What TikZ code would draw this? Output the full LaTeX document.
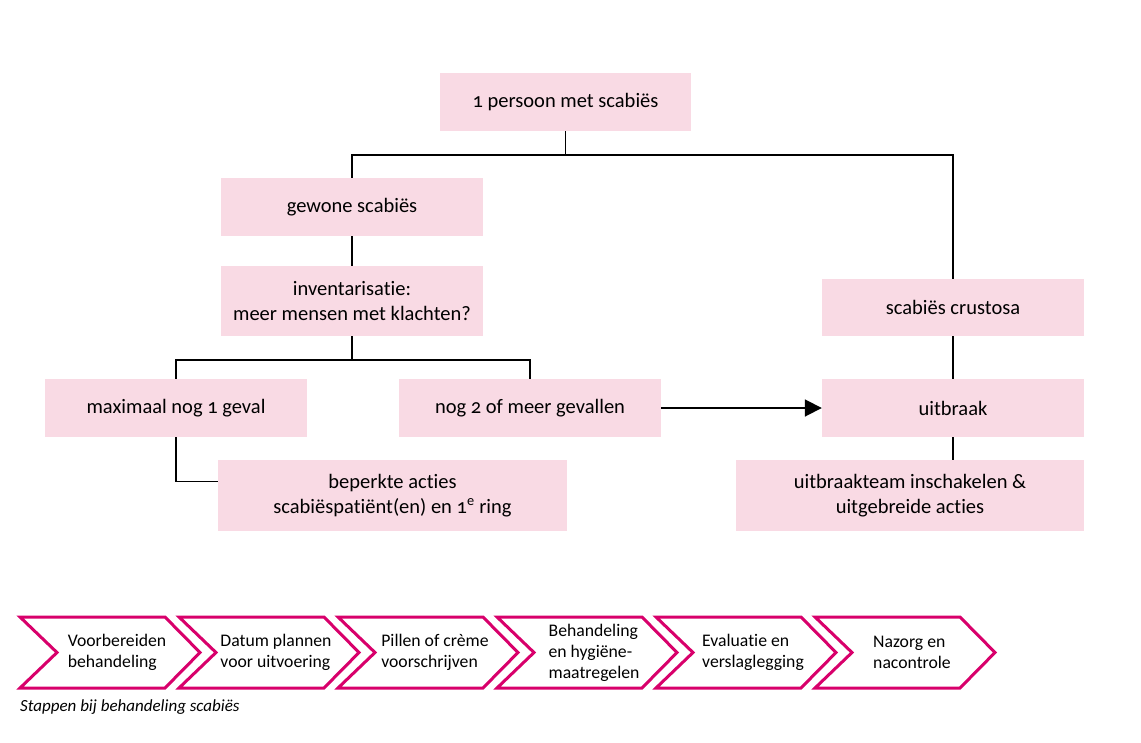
\documentclass[tikz,border=0pt]{standalone}
\usepackage{fontspec}
\setmainfont{Carlito}[Numbers=OldStyle, RawFeature=-liga]
\usetikzlibrary{arrows.meta}
\definecolor{boxpink}{HTML}{F9DAE4}
\definecolor{stepred}{HTML}{D8006B}
\tikzset{
  box/.style={fill=boxpink, align=center, inner sep=0pt,
    font=\fontsize{20.5}{25}\selectfont},
  link/.style={line width=1.8pt, black},
  stepline/.style={draw=stepred, line width=3pt, line join=miter},
  steptext/.style={align=left, font=\fontsize{17.7}{21}\selectfont}
}
\begin{document}
\begin{tikzpicture}[x=1pt,y=-1pt]
  \useasboundingbox (0,0) rectangle (1141,742);
  % flowchart boxes
  \node[box, minimum width=251pt, minimum height=58pt] (persoon) at (565.5,102) {1 persoon met scabiës};
  \node[box, minimum width=262pt, minimum height=58pt] (gewone) at (352,207) {gewone scabiës};
  \node[box, minimum width=262pt, minimum height=70pt] (inventarisatie) at (352,301) {inventarisatie:\\meer mensen met klachten?};
  \node[box, minimum width=262pt, minimum height=57pt] (crustosa) at (953,307.5) {scabiës crustosa};
  \node[box, minimum width=262pt, minimum height=58pt] (maximaal) at (176,408) {maximaal nog 1 geval};
  \node[box, minimum width=262pt, minimum height=58pt] (meer) at (530,408) {nog 2 of meer gevallen};
  \node[box, minimum width=262pt, minimum height=58pt] (uitbraak) at (953,408) {uitbraak};
  \node[box, minimum width=349pt, minimum height=71pt] (beperkt) at (392.5,495.5) {beperkte acties\\scabiëspatiënt(en) en 1\textsuperscript{e} ring};
  \node[box, minimum width=348pt, minimum height=71pt] (team) at (910,495.5) {uitbraakteam inschakelen \&\\uitgebreide acties};
  \coordinate (split1) at (565.5,155);
  \coordinate (split2) at (352,360);
  % connectors
  \draw[link] (persoon.south) -- (split1);
  \draw[link] (gewone.north) |- (split1) -| (crustosa.north);
  \draw[link] (gewone) -- (inventarisatie);
  \draw[link] (inventarisatie.south) -- (split2);
  \draw[link] (maximaal.north) |- (split2) -| (meer.north);
  \draw[link] (maximaal.south) |- ([yshift=14pt]beperkt.west);
  \draw[link] (crustosa) -- (uitbraak);
  \draw[link] (uitbraak.south) -- (uitbraak.south |- team.north);
  \draw[link, -{Triangle[length=17pt, width=17pt]}] (meer) -- (uitbraak);
  % steps
  \foreach \i/\txt in {0/{Voorbereiden\\behandeling},
                       1/{Datum plannen\\voor uitvoering},
                       2/{Pillen of crème\\voorschrijven},
                       3/{Behandeling\\en hygiëne-\\maatregelen},
                       4/{Evaluatie en\\verslaglegging},
                       5/{Nazorg en\\nacontrole}} {
    \pgfmathsetmacro{\L}{20+159*\i}
    \draw[stepline] (\L,617) -- ++(145,0) -- ++(35,35.5) -- ++(-35,35.5)
      -- ++(-145,0) -- ++(37,-35.5) -- cycle;
    \node[steptext] (step\i) at (\L+97,652.5) {\txt};
  }
  \node[anchor=west, inner sep=0pt, font=\itshape\fontsize{17}{20}\selectfont] (caption) at (20,707) {Stappen bij behandeling scabiës};
\end{tikzpicture}
\end{document}
